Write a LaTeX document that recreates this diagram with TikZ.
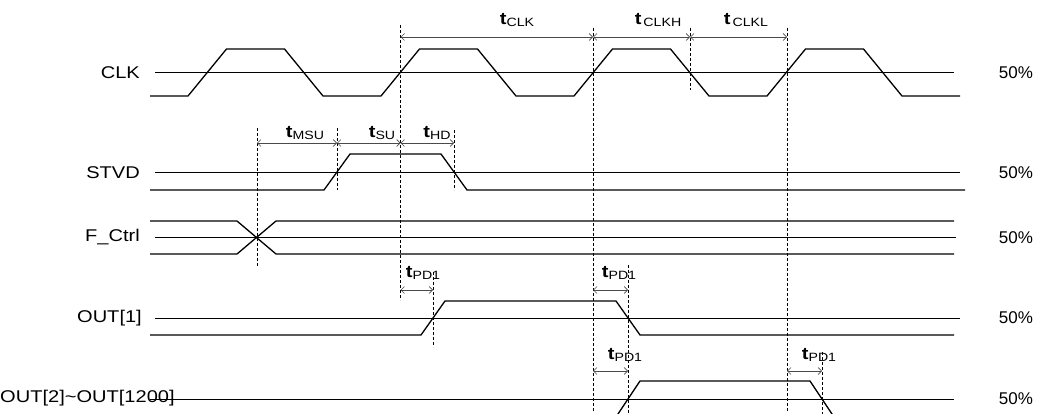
\documentclass[tikz,border=0pt]{standalone}
\usepackage{fontspec}
\setmainfont{Liberation Sans}
\newfontfamily\sigfont[FakeStretch=1.18]{Liberation Sans}
\usepackage{tikz}
\usetikzlibrary{arrows.meta}
\definecolor{ink}{HTML}{000000}
\definecolor{dimgray}{HTML}{4A4A4A}
\tikzset{
  wave/.style={draw=ink, line width=1.3pt, line join=round},
  ref/.style={draw=ink, line width=0.8pt},
  guide/.style={draw=ink, dash pattern=on 3pt off 2pt, line width=1pt},
  dim/.style={draw=dimgray, line width=0.7pt,
    {Straight Barb[length=3.5pt,width=7pt]}-{Straight Barb[length=3.5pt,width=7pt]}},
  sig/.style={font=\sigfont\fontsize{17}{19}\selectfont, anchor=east, inner sep=0pt},
  pct/.style={font=\fontsize{17}{19}\selectfont, inner sep=0pt},
  tlab/.style={font=\sigfont\fontsize{17}{19}\selectfont, inner sep=0pt}
}
\newcommand{\tsym}[1]{\textbf{t}\raisebox{-0.3ex}{\fontsize{12}{13}\selectfont #1}}

\begin{document}
\begin{tikzpicture}[x=1pt,y=-1pt]
  \useasboundingbox (0,0) rectangle (1037,414);
  \fill[white] (0,0) rectangle (1037,414);
  \clip (0,0) rectangle (1037,414);
  % signal names and levels
  \node[sig] (clk) at (140,72.5) {CLK};
  \node[sig] (stvd) at (140,172.5) {STVD};
  \node[sig] (fctrl) at (140,237.5) {F\_Ctrl};
  \node[sig] (out1) at (142,318) {OUT[1]};
  \node[sig,anchor=west] (outn) at (0,398) {OUT[2]\textasciitilde OUT[1200]};
  \foreach \y/\n in {72.5/a,172.5/b,237.5/c,318/d,399/e}
    \node[pct] (p\n) at (1016,\y) {50\%};
  % 50% reference lines
  \draw[ref] (155,72.5) -- (954,72.5);
  \draw[ref] (155,172.5) -- (960,172.5);
  \draw[ref] (155,237.5) -- (956,237.5);
  \draw[ref] (155,318) -- (960,318);
  \draw[ref] (150,399) -- (954,399);
  % waveforms
  \draw[wave] (150,96) foreach \k in {0,...,3}{
      -- ({188+193*\k},96) -- ({226.5+193*\k},49)
      -- ({284.5+193*\k},49) -- ({323+193*\k},96)} -- (960,96);
  \draw[wave] (150,190) -- (324,190) -- (350,154) -- (441,154) -- (467,190) -- (965,190);
  \draw[wave] (150,221) -- (237,221) -- (276,254) -- (954,254);
  \draw[wave] (150,254) -- (237,254) -- (276,221) -- (954,221);
  \draw[wave] (150,335) -- (421,335) -- (445,301) -- (616,301) -- (640,335) -- (954,335);
  \draw[wave] (150,417) -- (616,417) -- (640,381) -- (810,381) -- (834,417) -- (954,417);
  % timing marks
  \draw[guide] (257,128) -- (257,267);
  \draw[guide] (337,128) -- (337,190);
  \draw[guide] (454,130) -- (454,190);
  \draw[guide] (400.5,25) -- (400.5,300);
  \draw[guide] (593,28) -- (593,411);
  \draw[guide] (690,28) -- (690,90);
  \draw[guide] (787,28) -- (787,411);
  \draw[guide] (433,272) -- (433,347);
  \draw[guide] (628,265) -- (628,414);
  \draw[guide] (822,352) -- (822,414);
  % dimension ends
  \coordinate (k0) at (400.5,37);
  \coordinate (k1) at (593,37);
  \coordinate (k2) at (690,37);
  \coordinate (k3) at (787,37);
  \coordinate (s0) at (257,143);
  \coordinate (s1) at (337,143);
  \coordinate (s2) at (400.5,143);
  \coordinate (s3) at (454,143);
  \coordinate (d0) at (400.5,290);
  \coordinate (d1) at (433,290);
  \coordinate (d2) at (593,290);
  \coordinate (d3) at (628,290);
  \coordinate (e0) at (593,371);
  \coordinate (e1) at (628,371);
  \coordinate (e2) at (787,371);
  \coordinate (e3) at (822,371);
  \draw[dim] (k0) -- (k1);
  \draw[dim] (k1) -- (k2);
  \draw[dim] (k2) -- (k3);
  \draw[dim] (s0) -- (s1);
  \draw[dim] (s1) -- (s2);
  \draw[dim] (s2) -- (s3);
  \draw[dim] (d0) -- (d1);
  \draw[dim] (d2) -- (d3);
  \draw[dim] (e0) -- (e1);
  \draw[dim] (e2) -- (e3);
  \node[tlab] (tclk) at (517,20) {\tsym{CLK}};
  \node[tlab] (tclkh) at (658,20) {\tsym{\,CLKH}};
  \node[tlab] (tclkl) at (746,20) {\tsym{\,CLKL}};
  \node[tlab] (tmsu) at (305,133) {\tsym{MSU}};
  \node[tlab] (tsu) at (382,133) {\tsym{SU}};
  \node[tlab] (thd) at (437,133) {\tsym{HD}};
  \node[tlab] (tpda) at (423,273) {\tsym{PD1}};
  \node[tlab] (tpdb) at (619,273) {\tsym{PD1}};
  \node[tlab] (tpdc) at (625,355) {\tsym{PD1}};
  \node[tlab] (tpdd) at (819,355) {\tsym{PD1}};
\end{tikzpicture}
\end{document}
